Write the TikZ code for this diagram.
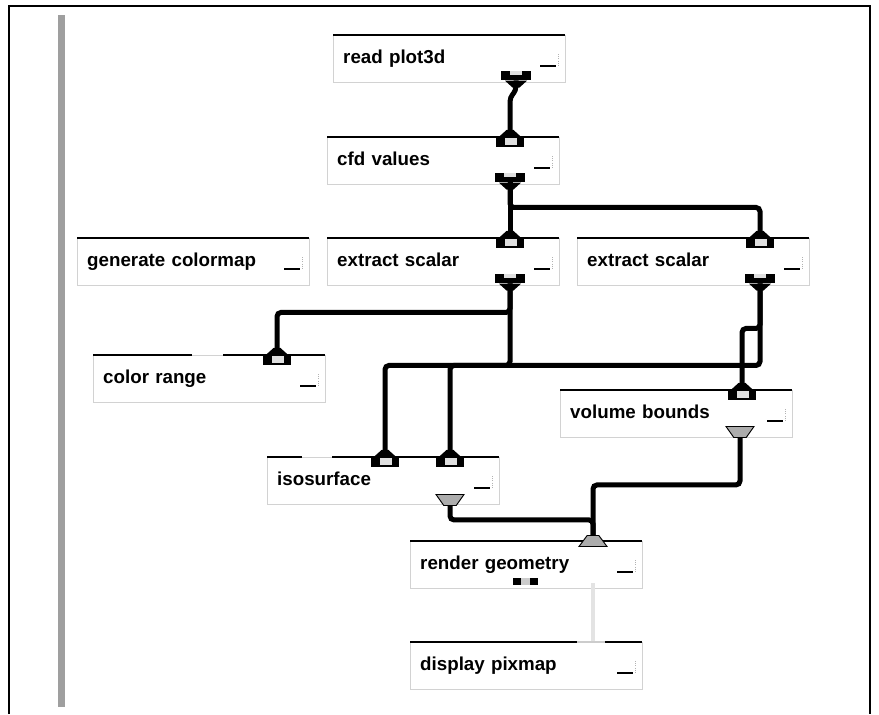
\documentclass[tikz,border=0pt]{standalone}
\usepackage{fontspec}
\newfontfamily\modfont{Liberation Sans}
\usetikzlibrary{shapes.geometric}

\begin{document}
\begin{tikzpicture}[x=0.3mm,y=-0.3mm,
  modbox/.style={rectangle,draw=gray!35,anchor=north west,minimum width=69.6mm,
    minimum height=14.1mm,text width=63.6mm,inner xsep=3mm,align=left,
    text height=2.7mm,text depth=0pt,font=\modfont\bfseries\fontsize{16}{18}\selectfont},
  topbar/.style={line width=0.8mm},
  icon/.style={line width=0.6mm},
  icontick/.style={gray!60,densely dotted,line width=0.3mm},
  inport/.style={rectangle,fill=black,inner sep=0pt,minimum width=8.4mm,minimum height=3mm,anchor=north,
    path picture={\fill[gray!25] ([xshift=-1.5mm,yshift=-0.3mm]path picture bounding box.north)
      rectangle ([xshift=2.1mm,yshift=0.6mm]path picture bounding box.south);}},
  flare/.style={trapezium,fill=black,inner sep=0.3pt,trapezium stretches=true,
    trapezium left angle=40,trapezium right angle=40,minimum width=6.6mm,minimum height=2.1mm,anchor=bottom side},
  outport/.style={rectangle,fill=black,inner sep=0pt,minimum width=9mm,minimum height=2.7mm,anchor=north,
    path picture={\fill[gray!25] ([xshift=-1.8mm]path picture bounding box.north)
      rectangle ([xshift=1.8mm,yshift=-1.2mm]path picture bounding box.north);}},
  neck/.style={trapezium,fill=black,inner sep=0.3pt,trapezium stretches=true,
    trapezium left angle=140,trapezium right angle=140,minimum width=6.6mm,minimum height=2.1mm,anchor=top side},
  grayport/.style={trapezium,fill=gray!65,draw=black,line width=0.8pt,inner sep=0.3pt,trapezium stretches=true,
    trapezium left angle=122,trapezium right angle=122,minimum width=8.4mm,minimum height=3.3mm,anchor=north},
  grayin/.style={trapezium,fill=gray!65,draw=black,line width=0.8pt,inner sep=0.3pt,trapezium stretches=true,
    trapezium left angle=55,trapezium right angle=55,minimum width=8.4mm,minimum height=3.3mm},
  stub/.style={rectangle,fill=black,inner sep=0pt,minimum width=7.5mm,minimum height=2.1mm,anchor=north,
    path picture={\fill[gray!40] ([xshift=-1.2mm]path picture bounding box.north)
      rectangle ([xshift=1.5mm]path picture bounding box.south);}},
  wire/.style={line width=1.5mm,rounded corners=1.2mm},
  faintwire/.style={line width=1mm,gray!22}]
  \useasboundingbox (0,0) rectangle (879,714);
  % frame and side bar
  \draw[line width=0.6mm] (9,714) -- (9,6) -- (870,6) -- (870,714);
  \fill[gray!75] (58,15) rectangle (65,707);
  % modules
  \node[modbox] (rp)  at (333,35)  {read plot3d};
  \node[modbox] (cfd) at (327,137) {cfd values};
  \node[modbox] (gcm) at (77,238)  {generate colormap};
  \node[modbox] (es1) at (327,238) {extract scalar};
  \node[modbox] (es2) at (577,238) {extract scalar};
  \node[modbox] (cr)  at (93,355)  {color range};
  \node[modbox] (vb)  at (560,390) {volume bounds};
  \node[modbox] (iso) at (267,457) {isosurface};
  \node[modbox] (rg)  at (410,541) {render geometry};
  \node[modbox] (dp)  at (410,642) {display pixmap};
  \foreach \m in {rp,cfd,gcm,es1,es2,vb,rg}
    \draw[topbar] (\m.north west) -- (\m.north east);
  \draw[topbar] (cr.north west) -- ++(99,0) ++(31,0) -- (cr.north east);
  \draw[topbar] (iso.north west) -- ++(35,0) ++(30,0) -- (iso.north east);
  \draw[topbar] (dp.north west) -- ++(167,0) ++(28,0) -- (dp.north east);
  \draw[topbar,gray!40] (dp.north west) ++(167,0) -- ++(28,0);
  \foreach \m in {rp,cfd,gcm,es1,es2,cr,vb,iso,rg,dp} {
    \draw[icon] ([shift={(-25,31)}]\m.north east) -- ++(16,0);
    \draw[icontick] ([shift={(-7,19)}]\m.north east) -- ++(0,11);
  }
  % ports
  \node[inport] (cfd-in)  at (510,137) {};
  \node[inport] (es1-in)  at (510,238) {};
  \node[inport] (es2-in)  at (760,238) {};
  \node[inport] (cr-in)   at (277,355) {};
  \node[inport] (vb-in)   at (742,390) {};
  \node[inport] (iso-in1) at (385,457) {};
  \node[inport] (iso-in2) at (450,457) {};
  \node[grayin] (rg-in)   at (593,541) {};
  \foreach \p in {cfd-in,es1-in,es2-in,cr-in,vb-in,iso-in1,iso-in2}
    \node[flare] at (\p.north) {};
  \node[outport] (rp-out)  at (516,71)  {};
  \node[outport] (cfd-out) at (510,173) {};
  \node[outport] (es1-out) at (510,274) {};
  \node[outport] (es2-out) at (760,274) {};
  \foreach \p in {rp-out,cfd-out,es1-out,es2-out}
    \node[neck] at (\p.south) {};
  \node[grayport] (vb-out)  at (740,426) {};
  \node[grayport] (iso-out) at (450,494) {};
  \node[stub] (rg-out) at (525,578) {};
  \coordinate (rg-side) at (593,583);
  \coordinate (dp-in) at (593,641);
  % connections
  \draw[faintwire] (rg-side) -- (dp-in);
  \draw[wire] (rp-out.south) -- ++(0,10) -- ++(-6,7) -- (cfd-in.north);
  \draw[wire] (cfd-out.south) -- (es1-in.north);
  \draw[wire] (cfd-out.south) -- ++(0,25) -| (es2-in.north);
  \draw[wire] (es1-out.south) -- ++(0,29) -| (cr-in.north);
  \draw[wire] (es1-out.south) -- ++(0,82) -| (iso-in1.north);
  \draw[wire] (es2-out.south) -- ++(0,82) -| (iso-in2.north);
  \draw[wire] (es2-out.south) -- ++(0,45) -| (vb-in.north);
  \draw[wire] (vb-out.south) -- ++(0,47) -| (rg-in.north);
  \draw[wire] (iso-out.south) -- ++(0,14) -| (rg-in.north);
\end{tikzpicture}
\end{document}
